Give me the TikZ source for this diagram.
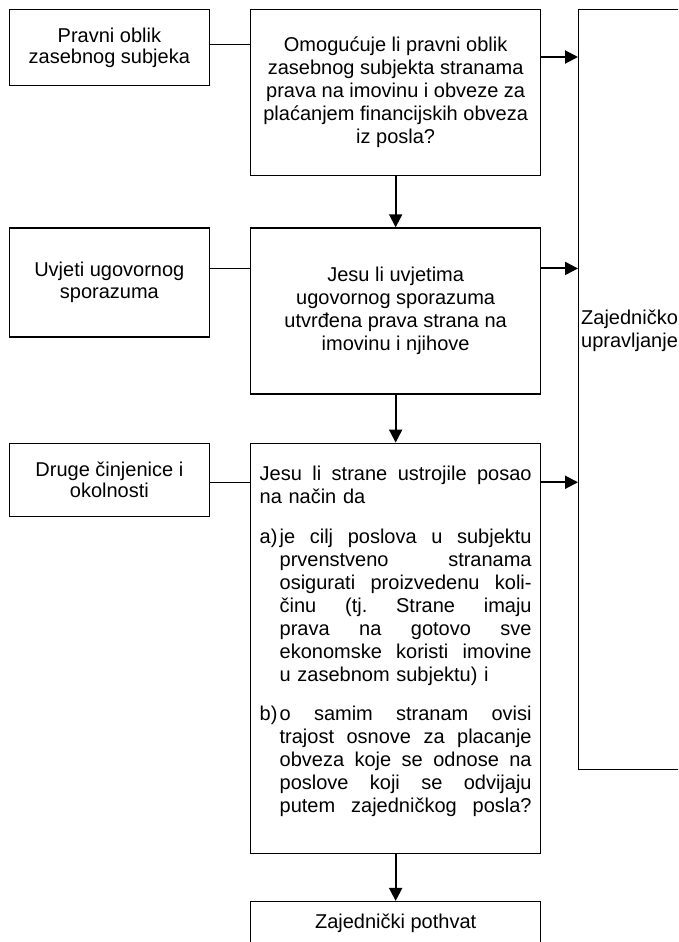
\documentclass[tikz,border=0pt]{standalone}
\usepackage{fontspec}
\setsansfont{Liberation Sans}
\usetikzlibrary{arrows.meta, positioning}

% Lignes justifiées pour le grand bloc de questions
\newlength{\largeur}
\setlength{\largeur}{272pt}
\newcommand{\espace}{\spaceskip=.278em plus 1fil\xspaceskip=.278em plus 1fil\relax}
\newcommand{\jligne}[1]{\makebox[\largeur][s]{\espace #1}}
\newcommand{\jpoint}[2]{\makebox[20pt][l]{#1}\makebox[\dimexpr\largeur-20pt\relax][s]{\espace #2}}
\newcommand{\jsuite}[1]{\hspace*{20pt}\makebox[\dimexpr\largeur-20pt\relax][s]{\espace #1}}

\begin{document}
\begin{tikzpicture}[
        x=1pt, y=1pt,
        % Police commune
        every node/.style = {font=\sffamily\fontsize{20}{23}\selectfont},
        % Cadre de base
        cadre/.style = {
            rectangle,
            draw=black,
            line width=1.3pt,
            align=center,
            inner sep=4pt
        },
        % Critères à gauche
        critere/.style = {
            cadre,
            minimum width=200pt,
            font=\sffamily\fontsize{20}{21.5}\selectfont
        },
        % Questions au centre
        question/.style = {
            cadre,
            minimum width=290pt
        },
        % Traits et flèches
        lien/.style = {line width=1.3pt},
        fleche/.style = {
            -{Triangle[length=13pt, width=13pt]},
            line width=2pt
        }
    ]

        \useasboundingbox (0,0) rectangle (678,-942);
        \clip (0,0) rectangle (678,-942);

        % 1. Colonne des questions
        \node (q1) [question, minimum height=166pt, anchor=north west] at (250,-9)
            {Omogućuje li pravni oblik\\zasebnog subjekta stranama\\prava na imovinu i obveze za\\plaćanjem financijskih obveza\\iz posla?};
        \node (q2) [question, minimum height=166pt, below=51pt of q1]
            {Jesu li uvjetima\\ugovornog sporazuma\\utvrđena prava strana na\\imovinu i njihove};
        \node (q3) [question, minimum height=410pt, text width=\largeur, text depth=351pt, align=left, below=48pt of q2]
            {\jligne{Jesu li strane ustrojile posao}\\
             na način da\\[17pt]
             \jpoint{a)}{je cilj poslova u subjektu}\\
             \jsuite{prvenstveno stranama}\\
             \jsuite{osigurati proizvedenu koli-}\\
             \jsuite{činu (tj. Strane imaju}\\
             \jsuite{prava na gotovo sve}\\
             \jsuite{ekonomske koristi imovine}\\
             \hspace*{20pt}u zasebnom subjektu) i\\[16pt]
             \jpoint{b)}{o samim stranam ovisi}\\
             \jsuite{trajost osnove za placanje}\\
             \jsuite{obveza koje se odnose na}\\
             \jsuite{poslove koji se odvijaju}\\
             \jsuite{putem zajedničkog posla?}};
        \node (pothvat) [question, minimum height=44pt, below=47pt of q3] {Zajednički pothvat};

        % 2. Critères à gauche
        \node (oblik)  [critere, minimum height=76pt, left=40pt of q1.north west, anchor=north east]
            {Pravni oblik\\zasebnog subjeka};
        \node (uvjeti) [critere, minimum height=109pt, left=40pt of q2.north west, anchor=north east]
            {Uvjeti ugovornog\\sporazuma};
        \node (druge)  [critere, minimum height=73pt, left=40pt of q3.north west, anchor=north east]
            {Druge činjenice i\\okolnosti};

        % 3. Bloc de droite
        \node (zu) [cadre, minimum width=130pt, minimum height=760pt, anchor=north west] at (578,-9) {};
        \node (zutekst) [anchor=west, align=left, inner sep=3pt] at ([yshift=59pt]zu.west)
            {Zajedničko\\upravljanje};

        % 4. Traits et flèches
        \coordinate (v1) at ([yshift=3pt]oblik.east);
        \coordinate (d1) at ([yshift=-48pt]q1.north east);
        \coordinate (v2) at ([yshift=14pt]uvjeti.east);
        \coordinate (v3) at ([yshift=-2.5pt]druge.east);

        \draw [lien] (v1) -- (v1 -| q1.west);
        \draw [lien] (v2) -- (v2 -| q2.west);
        \draw [lien] (v3) -- (v3 -| q3.west);

        \draw [fleche] (d1) -- (d1 -| zu.west);
        \draw [fleche] (v2 -| q2.east) -- (v2 -| zu.west);
        \draw [fleche] (v3 -| q3.east) -- (v3 -| zu.west);

        \draw [fleche] (q1) -- (q2);
        \draw [fleche] (q2) -- (q3);
        \draw [fleche] (q3) -- (pothvat);

    \end{tikzpicture}
\end{document}
